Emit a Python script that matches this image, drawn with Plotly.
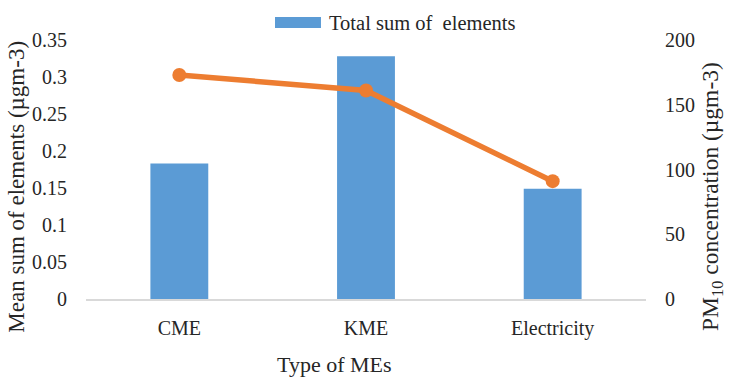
import plotly.graph_objects as go

# Categories and series values
me_types = ["CME", "KME", "Electricity"]
sum_elements = [0.183, 0.328, 0.149]      # left axis, µgm-3
pm10_conc = [173, 161, 91]                # right axis, µgm-3

left_ticks = [0, 0.05, 0.1, 0.15, 0.2, 0.25, 0.3, 0.35]
left_labels = ["0", "0.05", "0.1", "0.15", "0.2", "0.25", "0.3", "0.35"]
right_ticks = [0, 50, 100, 150, 200]

FONT = "Times New Roman, Liberation Serif, DejaVu Serif, serif"
TXT = "#262626"
BAR_COLOR = "#5B9BD5"
LINE_COLOR = "#ED7D31"

fig = go.Figure()
fig.add_trace(go.Bar(
    x=me_types, y=sum_elements, name="Total sum of  elements",
    marker=dict(color=BAR_COLOR, line=dict(width=0)),
    width=0.31, yaxis="y", showlegend=False,
))
fig.add_trace(go.Scatter(
    x=me_types, y=pm10_conc, mode="lines+markers", name="PM10",
    line=dict(color=LINE_COLOR, width=5.5),
    marker=dict(color=LINE_COLOR, size=14),
    yaxis="y2", showlegend=False,
))

fig.update_layout(
    width=731, height=380,
    margin=dict(l=86, r=85, t=40, b=81, autoexpand=False),
    paper_bgcolor="white", plot_bgcolor="white",
    font=dict(family=FONT, size=20, color=TXT),
    showlegend=False,
    xaxis=dict(
        showgrid=False, showline=True, linecolor="#D9D9D9", linewidth=1.5,
        ticks="", ticklabelstandoff=10, tickfont=dict(family=FONT, size=20, color=TXT),
    ),
    yaxis=dict(
        range=[0, 0.35], tickvals=left_ticks, ticktext=left_labels,
        showgrid=False, zeroline=False, showline=False, ticks="",
        ticklabelstandoff=18, tickfont=dict(family=FONT, size=20, color=TXT),
    ),
    yaxis2=dict(
        range=[0, 200], tickvals=right_ticks, overlaying="y", side="right",
        showgrid=False, zeroline=False, showline=False, ticks="",
        ticklabelstandoff=18, tickfont=dict(family=FONT, size=20, color=TXT),
    ),
    # legend key for the bar series
    shapes=[
        dict(type="rect", xref="paper", yref="paper",
             x0=0.3375, x1=0.4196, y0=1.046, y1=1.089,
             fillcolor=BAR_COLOR, line=dict(width=0)),
    ],
    annotations=[
        dict(text="Total sum of\u00a0 elements", xref="paper", yref="paper",
             x=0.430, y=1.066, xanchor="left", yanchor="middle", showarrow=False,
             font=dict(family=FONT, size=20.5, color=TXT)),
        dict(text="Type of MEs", xref="paper", yref="paper", x=0.444, y=-0.251,
             xanchor="center", yanchor="middle", showarrow=False,
             font=dict(family=FONT, size=22, color=TXT)),
        dict(text="Mean sum of elements (µgm-3)", xref="paper", yref="paper",
             x=-0.124, y=0.432, textangle=-90, xanchor="center", yanchor="middle",
             showarrow=False, font=dict(family=FONT, size=23, color=TXT)),
        dict(text="PM<sub>10</sub> concentration (µgm-3)", xref="paper", yref="paper",
             x=1.118, y=0.394, textangle=-90, xanchor="center", yanchor="middle",
             showarrow=False, font=dict(family=FONT, size=23.5, color=TXT)),
    ],
)

fig.write_html("out.html")
